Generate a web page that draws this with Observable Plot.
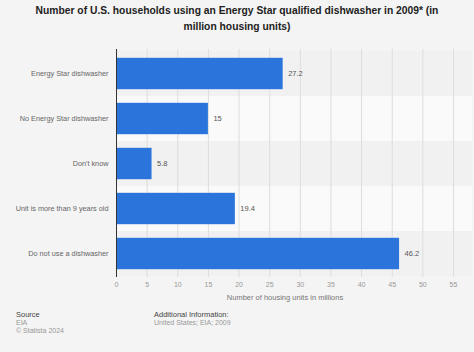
<!DOCTYPE html>
<html><head><meta charset="utf-8">
<script src="https://cdn.jsdelivr.net/npm/d3@7"></script>
<script src="https://cdn.jsdelivr.net/npm/@observablehq/plot@0.6"></script>
<style>
html,body{margin:0;padding:0;background:#f4f4f4;}
#wrap{position:relative;width:474px;height:352px;background:#f4f4f4;font-family:"Liberation Sans",Arial,sans-serif;overflow:hidden;}
#title{position:absolute;left:20px;top:3px;width:434px;text-align:center;font-weight:bold;font-size:10.3px;line-height:16px;color:#222;}
#chart{position:absolute;left:0;top:45px;}
.foot{position:absolute;font-size:7px;line-height:8px;color:#999;}
.foot b{font-weight:normal;color:#444;font-size:7.5px;}
</style></head><body>
<div id="wrap">
<div id="title">Number of U.S. households using an Energy Star qualified dishwasher in 2009* (in million housing units)</div>
<div id="chart"></div>
<div class="foot" style="left:16px;top:311px;"><b>Source</b><br>EIA<br>© Statista 2024</div>
<div class="foot" style="left:154px;top:311px;"><b>Additional Information:</b><br>United States; EIA; 2009</div>
</div>
<script>
const categories = ["Energy Star dishwasher","No Energy Star dishwasher","Don't know","Unit is more than 9 years old","Do not use a dishwasher"];
const values = [27.2, 15, 5.8, 19.4, 46.2];
const xTicks = [0,5,10,15,20,25,30,35,40,45,50,55];
const xLabel = "Number of housing units in millions";

const data = categories.map((c,i)=>({category:c, value:values[i], idx:i}));

const plot = Plot.plot({
  width: 474,
  height: 262,
  marginLeft: 116,
  marginRight: 21,
  marginTop: 4,
  marginBottom: 30,
  style: {background: "transparent", fontFamily: "Liberation Sans, Arial, sans-serif"},
  x: {domain: [0,55], ticks: xTicks, label: null},
  y: {domain: categories, padding: 0, label: null},
  marks: [
    Plot.cell(data, {y: "category", fill: d => d.idx % 2 === 0 ? "#f1f1f1" : "#fafafa", insetRight: -19}),
    Plot.gridX(xTicks, {stroke: "#dddddd", strokeOpacity: 1, strokeWidth: 1}),
    Plot.barX(data, {y: "category", x: "value", fill: "#2a74db", insetTop: 6.8, insetBottom: 6.8}),
    Plot.text(data, {y: "category", x: "value", text: d => String(d.value), dx: 5, textAnchor: "start", fontSize: 7.5, fill: "#555"}),
    Plot.ruleX([0], {stroke: "#333", strokeWidth: 1}),
    Plot.axisX({ticks: xTicks, tickSize: 0, tickPadding: 5, fontSize: 7, color: "#999", label: null}),
    Plot.axisY({tickSize: 0, tickPadding: 8, fontSize: 7.3, color: "#666", label: null}),
    Plot.text([xLabel], {frameAnchor: "bottom", dy: 22, fontSize: 7.5, fill: "#777"})
  ]
});
document.getElementById("chart").appendChild(plot);
</script>
</body></html>
